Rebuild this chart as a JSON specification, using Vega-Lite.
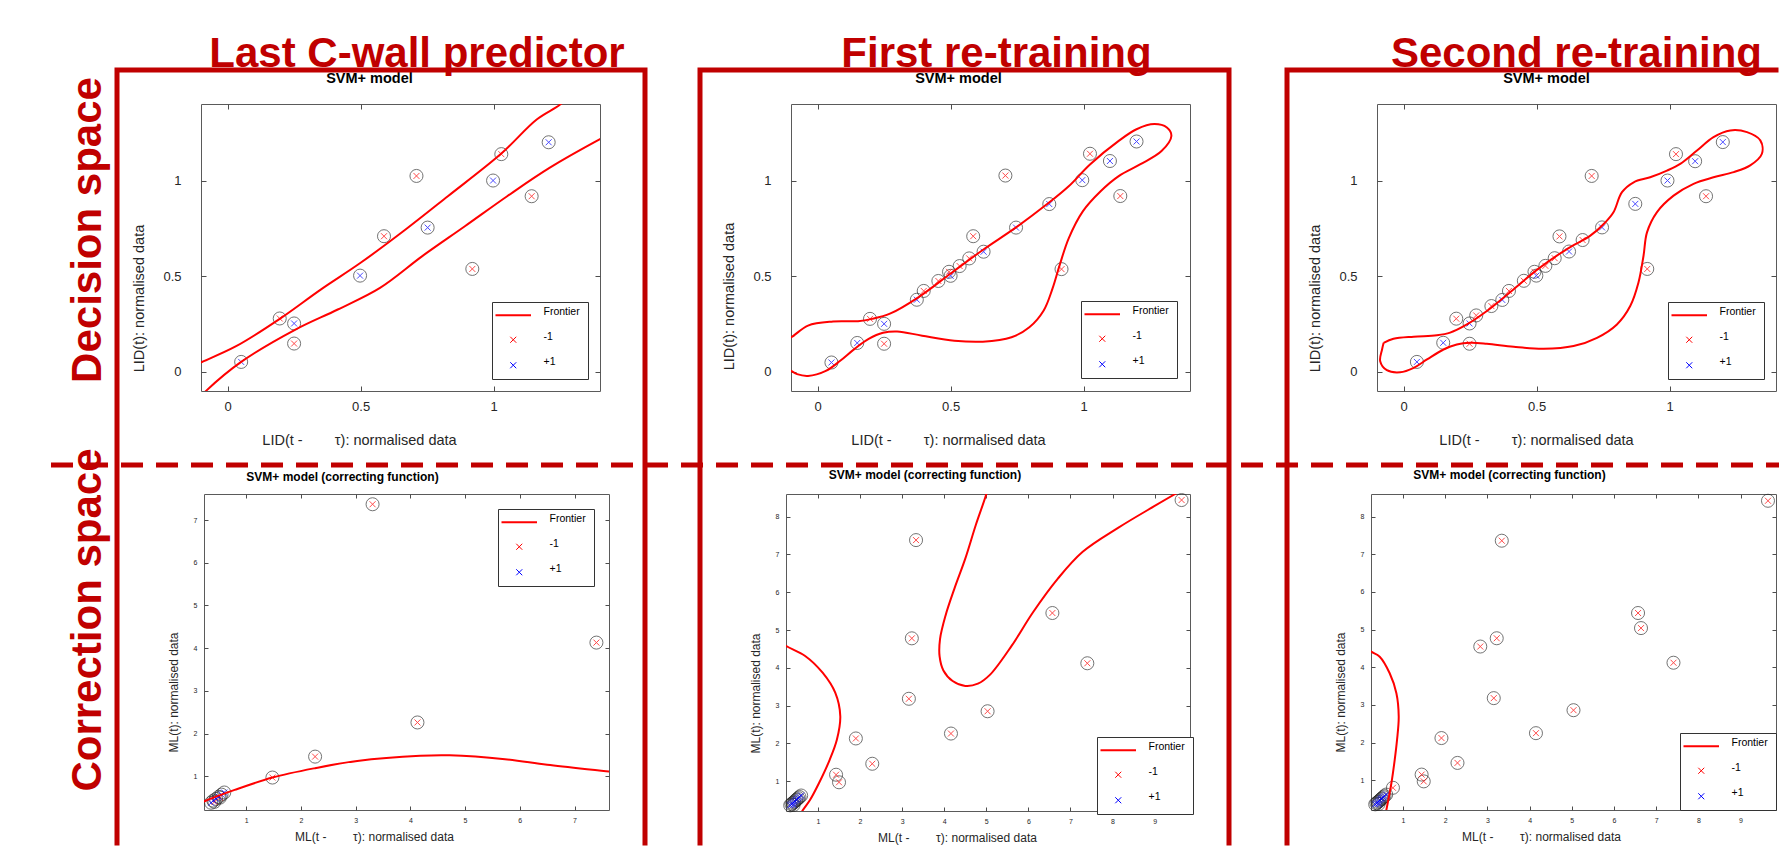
{
 "$schema": "https://vega.github.io/schema/vega-lite/v6.json",
 "padding": 0,
 "autosize": {"type": "pad"},
 "background": "white",
 "spacing": 0,
 "bounds": "flush",
 "resolve": {"scale": {"color": "independent", "shape": "independent"}},
 "config": {
  "view": {"stroke": null},
  "font": "Liberation Sans",
  "axis": {"grid": false, "domain": false, "tickColor": "#4d4d4d", "tickWidth": 1, "labelColor": "#262626", "titleColor": "#262626", "titleFontWeight": "normal", "labelFont": "Liberation Sans", "titleFont": "Liberation Sans"},
  "legend": {"padding": 8, "rowPadding": 11.5, "symbolOffset": 8, "labelOffset": 25, "labelFontSize": 10.5, "labelFont": "Liberation Sans", "labelColor": "#000000", "labelBaseline": "alphabetic", "strokeColor": "#333333", "fillColor": "#ffffff", "symbolSize": 100, "symbolStrokeWidth": 1},
  "title": {"font": "Liberation Sans"}
 },
 "datasets": {
  "tl_pts": [
   {"x":0.051,"y":0.052,"cls":"+1"},{"x":0.25,"y":0.253,"cls":"+1"},{"x":0.498,"y":0.503,"cls":"+1"},{"x":0.752,"y":0.754,"cls":"+1"},{"x":0.998,"y":1.0,"cls":"+1"},{"x":1.207,"y":1.2,"cls":"+1"},
   {"x":0.196,"y":0.279,"cls":"-1"},{"x":0.25,"y":0.148,"cls":"-1"},{"x":0.588,"y":0.709,"cls":"-1"},{"x":0.71,"y":1.024,"cls":"-1"},{"x":0.92,"y":0.538,"cls":"-1"},{"x":1.029,"y":1.138,"cls":"-1"},{"x":1.143,"y":0.918,"cls":"-1"}
  ],
  "tl_fr": [
   {"x":-0.13,"y":0.03,"i":1,"seg":"a","cls":"Frontier"},{"x":-0.104,"y":0.047,"i":2,"seg":"a","cls":"Frontier"},{"x":0.032,"y":0.134,"i":3,"seg":"a","cls":"Frontier"},{"x":0.196,"y":0.277,"i":4,"seg":"a","cls":"Frontier"},{"x":0.35,"y":0.43,"i":5,"seg":"a","cls":"Frontier"},{"x":0.5,"y":0.57,"i":6,"seg":"a","cls":"Frontier"},{"x":0.669,"y":0.744,"i":7,"seg":"a","cls":"Frontier"},{"x":0.828,"y":0.918,"i":8,"seg":"a","cls":"Frontier"},{"x":1.029,"y":1.141,"i":9,"seg":"a","cls":"Frontier"},{"x":1.162,"y":1.319,"i":10,"seg":"a","cls":"Frontier"},{"x":1.25,"y":1.397,"i":11,"seg":"a","cls":"Frontier"},{"x":1.28,"y":1.44,"i":12,"seg":"a","cls":"Frontier"},
   {"x":-0.095,"y":-0.12,"i":1,"seg":"b","cls":"Frontier"},{"x":-0.08,"y":-0.098,"i":2,"seg":"b","cls":"Frontier"},{"x":0.051,"y":0.052,"i":3,"seg":"b","cls":"Frontier"},{"x":0.255,"y":0.221,"i":4,"seg":"b","cls":"Frontier"},{"x":0.414,"y":0.326,"i":5,"seg":"b","cls":"Frontier"},{"x":0.573,"y":0.439,"i":6,"seg":"b","cls":"Frontier"},{"x":0.732,"y":0.605,"i":7,"seg":"b","cls":"Frontier"},{"x":0.892,"y":0.761,"i":8,"seg":"b","cls":"Frontier"},{"x":1.051,"y":0.918,"i":9,"seg":"b","cls":"Frontier"},{"x":1.21,"y":1.066,"i":10,"seg":"b","cls":"Frontier"},{"x":1.409,"y":1.223,"i":11,"seg":"b","cls":"Frontier"},{"x":1.44,"y":1.245,"i":12,"seg":"b","cls":"Frontier"}
  ],
  "tm_pts": [
   {"x":0.052,"y":0.049,"cls":"+1"},{"x":0.149,"y":0.151,"cls":"+1"},{"x":0.25,"y":0.251,"cls":"+1"},{"x":0.373,"y":0.377,"cls":"+1"},{"x":0.5,"y":0.502,"cls":"+1"},{"x":0.624,"y":0.628,"cls":"+1"},{"x":0.746,"y":0.754,"cls":"+1"},{"x":0.871,"y":0.877,"cls":"+1"},{"x":0.995,"y":1.002,"cls":"+1"},{"x":1.099,"y":1.102,"cls":"+1"},{"x":1.199,"y":1.204,"cls":"+1"},
   {"x":0.197,"y":0.277,"cls":"-1"},{"x":0.25,"y":0.147,"cls":"-1"},{"x":0.399,"y":0.423,"cls":"-1"},{"x":0.454,"y":0.475,"cls":"-1"},{"x":0.494,"y":0.523,"cls":"-1"},{"x":0.534,"y":0.553,"cls":"-1"},{"x":0.57,"y":0.593,"cls":"-1"},{"x":0.585,"y":0.709,"cls":"-1"},{"x":0.706,"y":1.026,"cls":"-1"},{"x":0.917,"y":0.537,"cls":"-1"},{"x":1.024,"y":1.14,"cls":"-1"},{"x":1.138,"y":0.919,"cls":"-1"}
  ],
  "tm_fr": [
   {"x":-0.12,"y":0.17,"i":1,"seg":"a","cls":"Frontier"},{"x":-0.099,"y":0.181,"i":2,"seg":"a","cls":"Frontier"},{"x":-0.036,"y":0.242,"i":3,"seg":"a","cls":"Frontier"},{"x":0.058,"y":0.263,"i":4,"seg":"a","cls":"Frontier"},{"x":0.152,"y":0.265,"i":5,"seg":"a","cls":"Frontier"},{"x":0.205,"y":0.277,"i":6,"seg":"a","cls":"Frontier"},{"x":0.272,"y":0.304,"i":7,"seg":"a","cls":"Frontier"},{"x":0.38,"y":0.391,"i":8,"seg":"a","cls":"Frontier"},{"x":0.5,"y":0.514,"i":9,"seg":"a","cls":"Frontier"},{"x":0.621,"y":0.637,"i":10,"seg":"a","cls":"Frontier"},{"x":0.742,"y":0.751,"i":11,"seg":"a","cls":"Frontier"},{"x":0.863,"y":0.877,"i":12,"seg":"a","cls":"Frontier"},{"x":0.944,"y":0.97,"i":13,"seg":"a","cls":"Frontier"},{"x":1.024,"y":1.084,"i":14,"seg":"a","cls":"Frontier"},{"x":1.132,"y":1.207,"i":15,"seg":"a","cls":"Frontier"},{"x":1.199,"y":1.268,"i":16,"seg":"a","cls":"Frontier"},{"x":1.266,"y":1.295,"i":17,"seg":"a","cls":"Frontier"},{"x":1.313,"y":1.277,"i":18,"seg":"a","cls":"Frontier"},{"x":1.33,"y":1.233,"i":19,"seg":"a","cls":"Frontier"},{"x":1.293,"y":1.154,"i":20,"seg":"a","cls":"Frontier"},{"x":1.212,"y":1.084,"i":21,"seg":"a","cls":"Frontier"},{"x":1.132,"y":1.023,"i":22,"seg":"a","cls":"Frontier"},{"x":1.064,"y":0.944,"i":23,"seg":"a","cls":"Frontier"},{"x":0.997,"y":0.839,"i":24,"seg":"a","cls":"Frontier"},{"x":0.944,"y":0.698,"i":25,"seg":"a","cls":"Frontier"},{"x":0.91,"y":0.558,"i":26,"seg":"a","cls":"Frontier"},{"x":0.883,"y":0.435,"i":27,"seg":"a","cls":"Frontier"},{"x":0.85,"y":0.321,"i":28,"seg":"a","cls":"Frontier"},{"x":0.796,"y":0.233,"i":29,"seg":"a","cls":"Frontier"},{"x":0.729,"y":0.181,"i":30,"seg":"a","cls":"Frontier"},{"x":0.621,"y":0.158,"i":31,"seg":"a","cls":"Frontier"},{"x":0.514,"y":0.163,"i":32,"seg":"a","cls":"Frontier"},{"x":0.393,"y":0.189,"i":33,"seg":"a","cls":"Frontier"},{"x":0.299,"y":0.211,"i":34,"seg":"a","cls":"Frontier"},{"x":0.246,"y":0.204,"i":35,"seg":"a","cls":"Frontier"},{"x":0.192,"y":0.172,"i":36,"seg":"a","cls":"Frontier"},{"x":0.138,"y":0.119,"i":37,"seg":"a","cls":"Frontier"},{"x":0.085,"y":0.058,"i":38,"seg":"a","cls":"Frontier"},{"x":0.031,"y":0.005,"i":39,"seg":"a","cls":"Frontier"},{"x":-0.036,"y":-0.021,"i":40,"seg":"a","cls":"Frontier"},{"x":-0.077,"y":-0.012,"i":41,"seg":"a","cls":"Frontier"},{"x":-0.099,"y":0.005,"i":42,"seg":"a","cls":"Frontier"},{"x":-0.12,"y":0.02,"i":43,"seg":"a","cls":"Frontier"}
  ],
  "tr_pts": [
   {"x":0.05,"y":0.052,"cls":"+1"},{"x":0.149,"y":0.152,"cls":"+1"},{"x":0.248,"y":0.253,"cls":"+1"},{"x":0.371,"y":0.376,"cls":"+1"},{"x":0.499,"y":0.503,"cls":"+1"},{"x":0.622,"y":0.629,"cls":"+1"},{"x":0.746,"y":0.755,"cls":"+1"},{"x":0.871,"y":0.878,"cls":"+1"},{"x":0.992,"y":1.0,"cls":"+1"},{"x":1.096,"y":1.101,"cls":"+1"},{"x":1.2,"y":1.201,"cls":"+1"},
   {"x":0.198,"y":0.278,"cls":"-1"},{"x":0.248,"y":0.147,"cls":"-1"},{"x":0.273,"y":0.295,"cls":"-1"},{"x":0.33,"y":0.344,"cls":"-1"},{"x":0.396,"y":0.423,"cls":"-1"},{"x":0.452,"y":0.476,"cls":"-1"},{"x":0.492,"y":0.523,"cls":"-1"},{"x":0.533,"y":0.554,"cls":"-1"},{"x":0.568,"y":0.594,"cls":"-1"},{"x":0.586,"y":0.708,"cls":"-1"},{"x":0.673,"y":0.689,"cls":"-1"},{"x":0.707,"y":1.024,"cls":"-1"},{"x":0.916,"y":0.538,"cls":"-1"},{"x":1.024,"y":1.138,"cls":"-1"},{"x":1.137,"y":0.918,"cls":"-1"}
  ],
  "tr_fr": [
   {"x":-0.075,"y":0.152,"i":1,"seg":"a","cls":"Frontier"},{"x":-0.038,"y":0.173,"i":2,"seg":"a","cls":"Frontier"},{"x":0.038,"y":0.184,"i":3,"seg":"a","cls":"Frontier"},{"x":0.125,"y":0.191,"i":4,"seg":"a","cls":"Frontier"},{"x":0.175,"y":0.205,"i":5,"seg":"a","cls":"Frontier"},{"x":0.238,"y":0.248,"i":6,"seg":"a","cls":"Frontier"},{"x":0.313,"y":0.318,"i":7,"seg":"a","cls":"Frontier"},{"x":0.414,"y":0.432,"i":8,"seg":"a","cls":"Frontier"},{"x":0.501,"y":0.533,"i":9,"seg":"a","cls":"Frontier"},{"x":0.614,"y":0.642,"i":10,"seg":"a","cls":"Frontier"},{"x":0.702,"y":0.712,"i":11,"seg":"a","cls":"Frontier"},{"x":0.758,"y":0.781,"i":12,"seg":"a","cls":"Frontier"},{"x":0.789,"y":0.834,"i":13,"seg":"a","cls":"Frontier"},{"x":0.821,"y":0.939,"i":14,"seg":"a","cls":"Frontier"},{"x":0.865,"y":0.991,"i":15,"seg":"a","cls":"Frontier"},{"x":0.927,"y":1.017,"i":16,"seg":"a","cls":"Frontier"},{"x":0.99,"y":1.052,"i":17,"seg":"a","cls":"Frontier"},{"x":1.04,"y":1.087,"i":18,"seg":"a","cls":"Frontier"},{"x":1.103,"y":1.157,"i":19,"seg":"a","cls":"Frontier"},{"x":1.165,"y":1.227,"i":20,"seg":"a","cls":"Frontier"},{"x":1.228,"y":1.262,"i":21,"seg":"a","cls":"Frontier"},{"x":1.291,"y":1.253,"i":22,"seg":"a","cls":"Frontier"},{"x":1.341,"y":1.21,"i":23,"seg":"a","cls":"Frontier"},{"x":1.347,"y":1.14,"i":24,"seg":"a","cls":"Frontier"},{"x":1.303,"y":1.079,"i":25,"seg":"a","cls":"Frontier"},{"x":1.241,"y":1.044,"i":26,"seg":"a","cls":"Frontier"},{"x":1.165,"y":1.017,"i":27,"seg":"a","cls":"Frontier"},{"x":1.09,"y":0.983,"i":28,"seg":"a","cls":"Frontier"},{"x":1.015,"y":0.921,"i":29,"seg":"a","cls":"Frontier"},{"x":0.952,"y":0.834,"i":30,"seg":"a","cls":"Frontier"},{"x":0.915,"y":0.729,"i":31,"seg":"a","cls":"Frontier"},{"x":0.902,"y":0.607,"i":32,"seg":"a","cls":"Frontier"},{"x":0.883,"y":0.467,"i":33,"seg":"a","cls":"Frontier"},{"x":0.852,"y":0.344,"i":34,"seg":"a","cls":"Frontier"},{"x":0.802,"y":0.248,"i":35,"seg":"a","cls":"Frontier"},{"x":0.727,"y":0.178,"i":36,"seg":"a","cls":"Frontier"},{"x":0.639,"y":0.135,"i":37,"seg":"a","cls":"Frontier"},{"x":0.526,"y":0.121,"i":38,"seg":"a","cls":"Frontier"},{"x":0.414,"y":0.131,"i":39,"seg":"a","cls":"Frontier"},{"x":0.313,"y":0.147,"i":40,"seg":"a","cls":"Frontier"},{"x":0.251,"y":0.152,"i":41,"seg":"a","cls":"Frontier"},{"x":0.2,"y":0.143,"i":42,"seg":"a","cls":"Frontier"},{"x":0.15,"y":0.117,"i":43,"seg":"a","cls":"Frontier"},{"x":0.088,"y":0.065,"i":44,"seg":"a","cls":"Frontier"},{"x":0.038,"y":0.021,"i":45,"seg":"a","cls":"Frontier"},{"x":-0.013,"y":-0.002,"i":46,"seg":"a","cls":"Frontier"},{"x":-0.063,"y":0.009,"i":47,"seg":"a","cls":"Frontier"},{"x":-0.088,"y":0.056,"i":48,"seg":"a","cls":"Frontier"},{"x":-0.081,"y":0.117,"i":49,"seg":"a","cls":"Frontier"},{"x":-0.075,"y":0.152,"i":50,"seg":"a","cls":"Frontier"}
  ],
  "bl_pts": [
   {"x":3.31,"y":7.37,"cls":"-1"},{"x":7.4,"y":4.13,"cls":"-1"},{"x":4.13,"y":2.26,"cls":"-1"},{"x":2.26,"y":1.46,"cls":"-1"},{"x":1.48,"y":0.97,"cls":"-1"},{"x":0.42,"y":0.4,"cls":"-1"},{"x":0.52,"y":0.5,"cls":"-1"},
   {"x":0.36,"y":0.38,"cls":"+1"},{"x":0.4,"y":0.43,"cls":"+1"},{"x":0.45,"y":0.47,"cls":"+1"},{"x":0.5,"y":0.52,"cls":"+1"},{"x":0.55,"y":0.57,"cls":"+1"},{"x":0.6,"y":0.62,"cls":"+1"}
  ],
  "bl_fr": [
   {"x":0.15,"y":0.36,"i":1,"seg":"a","cls":"Frontier"},{"x":0.23,"y":0.41,"i":2,"seg":"a","cls":"Frontier"},{"x":0.79,"y":0.68,"i":3,"seg":"a","cls":"Frontier"},{"x":1.48,"y":0.97,"i":4,"seg":"a","cls":"Frontier"},{"x":2.26,"y":1.19,"i":5,"seg":"a","cls":"Frontier"},{"x":3.03,"y":1.36,"i":6,"seg":"a","cls":"Frontier"},{"x":4.18,"y":1.48,"i":7,"seg":"a","cls":"Frontier"},{"x":4.72,"y":1.49,"i":8,"seg":"a","cls":"Frontier"},{"x":5.73,"y":1.4,"i":9,"seg":"a","cls":"Frontier"},{"x":6.5,"y":1.27,"i":10,"seg":"a","cls":"Frontier"},{"x":7.63,"y":1.11,"i":11,"seg":"a","cls":"Frontier"},{"x":7.75,"y":1.09,"i":12,"seg":"a","cls":"Frontier"}
  ],
  "bm_pts": [
   {"x":3.33,"y":7.38,"cls":"-1"},{"x":9.64,"y":8.44,"cls":"-1"},{"x":6.57,"y":5.45,"cls":"-1"},{"x":3.23,"y":4.78,"cls":"-1"},{"x":7.4,"y":4.12,"cls":"-1"},{"x":3.16,"y":3.18,"cls":"-1"},{"x":5.03,"y":2.85,"cls":"-1"},{"x":4.16,"y":2.26,"cls":"-1"},{"x":1.9,"y":2.13,"cls":"-1"},{"x":2.29,"y":1.46,"cls":"-1"},{"x":1.43,"y":1.17,"cls":"-1"},{"x":1.5,"y":0.97,"cls":"-1"},
   {"x":0.34,"y":0.36,"cls":"+1"},{"x":0.37,"y":0.39,"cls":"+1"},{"x":0.4,"y":0.42,"cls":"+1"},{"x":0.43,"y":0.44,"cls":"+1"},{"x":0.45,"y":0.47,"cls":"+1"},{"x":0.48,"y":0.5,"cls":"+1"},{"x":0.5,"y":0.52,"cls":"+1"},{"x":0.53,"y":0.55,"cls":"+1"},{"x":0.56,"y":0.58,"cls":"+1"},{"x":0.6,"y":0.62,"cls":"+1"},{"x":0.42,"y":0.37,"cls":"+1"}
  ],
  "bm_fr": [
   {"x":0.05,"y":4.75,"i":1,"seg":"a","cls":"Frontier"},{"x":0.238,"y":4.58,"i":2,"seg":"a","cls":"Frontier"},{"x":0.687,"y":4.32,"i":3,"seg":"a","cls":"Frontier"},{"x":1.11,"y":3.87,"i":4,"seg":"a","cls":"Frontier"},{"x":1.41,"y":3.34,"i":5,"seg":"a","cls":"Frontier"},{"x":1.53,"y":2.72,"i":6,"seg":"a","cls":"Frontier"},{"x":1.45,"y":2.1,"i":7,"seg":"a","cls":"Frontier"},{"x":1.28,"y":1.57,"i":8,"seg":"a","cls":"Frontier"},{"x":1.025,"y":0.95,"i":9,"seg":"a","cls":"Frontier"},{"x":0.81,"y":0.5,"i":10,"seg":"a","cls":"Frontier"},{"x":0.627,"y":0.21,"i":11,"seg":"a","cls":"Frontier"},{"x":0.56,"y":0.08,"i":12,"seg":"a","cls":"Frontier"},
   {"x":5.05,"y":8.85,"i":1,"seg":"b","cls":"Frontier"},{"x":5.0,"y":8.6,"i":2,"seg":"b","cls":"Frontier"},{"x":4.75,"y":7.78,"i":3,"seg":"b","cls":"Frontier"},{"x":4.5,"y":6.89,"i":4,"seg":"b","cls":"Frontier"},{"x":4.24,"y":6.09,"i":5,"seg":"b","cls":"Frontier"},{"x":4.03,"y":5.38,"i":6,"seg":"b","cls":"Frontier"},{"x":3.9,"y":4.76,"i":7,"seg":"b","cls":"Frontier"},{"x":3.89,"y":4.3,"i":8,"seg":"b","cls":"Frontier"},{"x":3.98,"y":3.93,"i":9,"seg":"b","cls":"Frontier"},{"x":4.2,"y":3.65,"i":10,"seg":"b","cls":"Frontier"},{"x":4.5,"y":3.52,"i":11,"seg":"b","cls":"Frontier"},{"x":4.8,"y":3.58,"i":12,"seg":"b","cls":"Frontier"},{"x":5.09,"y":3.82,"i":13,"seg":"b","cls":"Frontier"},{"x":5.6,"y":4.58,"i":14,"seg":"b","cls":"Frontier"},{"x":6.11,"y":5.47,"i":15,"seg":"b","cls":"Frontier"},{"x":6.7,"y":6.36,"i":16,"seg":"b","cls":"Frontier"},{"x":7.29,"y":7.07,"i":17,"seg":"b","cls":"Frontier"},{"x":8.14,"y":7.71,"i":18,"seg":"b","cls":"Frontier"},{"x":8.98,"y":8.27,"i":19,"seg":"b","cls":"Frontier"},{"x":9.49,"y":8.6,"i":20,"seg":"b","cls":"Frontier"},{"x":9.75,"y":8.76,"i":21,"seg":"b","cls":"Frontier"}
  ],
  "br_pts": [
   {"x":9.65,"y":8.42,"cls":"-1"},{"x":3.34,"y":7.36,"cls":"-1"},{"x":6.57,"y":5.44,"cls":"-1"},{"x":6.64,"y":5.04,"cls":"-1"},{"x":2.83,"y":4.55,"cls":"-1"},{"x":3.22,"y":4.77,"cls":"-1"},{"x":7.41,"y":4.12,"cls":"-1"},{"x":3.15,"y":3.18,"cls":"-1"},{"x":5.04,"y":2.86,"cls":"-1"},{"x":4.15,"y":2.25,"cls":"-1"},{"x":1.91,"y":2.12,"cls":"-1"},{"x":2.29,"y":1.46,"cls":"-1"},{"x":1.44,"y":1.15,"cls":"-1"},{"x":1.49,"y":0.97,"cls":"-1"},{"x":0.76,"y":0.8,"cls":"-1"},
   {"x":0.34,"y":0.36,"cls":"+1"},{"x":0.37,"y":0.39,"cls":"+1"},{"x":0.4,"y":0.42,"cls":"+1"},{"x":0.43,"y":0.44,"cls":"+1"},{"x":0.45,"y":0.47,"cls":"+1"},{"x":0.48,"y":0.5,"cls":"+1"},{"x":0.5,"y":0.52,"cls":"+1"},{"x":0.53,"y":0.55,"cls":"+1"},{"x":0.56,"y":0.58,"cls":"+1"},{"x":0.6,"y":0.62,"cls":"+1"},{"x":0.42,"y":0.37,"cls":"+1"}
  ],
  "br_fr": [
   {"x":0.05,"y":4.6,"i":1,"seg":"a","cls":"Frontier"},{"x":0.232,"y":4.42,"i":2,"seg":"a","cls":"Frontier"},{"x":0.446,"y":4.28,"i":3,"seg":"a","cls":"Frontier"},{"x":0.683,"y":3.84,"i":4,"seg":"a","cls":"Frontier"},{"x":0.842,"y":3.31,"i":5,"seg":"a","cls":"Frontier"},{"x":0.897,"y":2.69,"i":6,"seg":"a","cls":"Frontier"},{"x":0.857,"y":2.07,"i":7,"seg":"a","cls":"Frontier"},{"x":0.802,"y":1.54,"i":8,"seg":"a","cls":"Frontier"},{"x":0.723,"y":0.92,"i":9,"seg":"a","cls":"Frontier"},{"x":0.604,"y":0.21,"i":10,"seg":"a","cls":"Frontier"},{"x":0.58,"y":0.08,"i":11,"seg":"a","cls":"Frontier"}
  ]
 },
 "hconcat": [
  {"vconcat": [
   {"width": 1779, "height": 846, "data": {"values": []}, "mark": "point", "view": {"fill": "#ffffff", "stroke": null}}
  ], "spacing": 0, "bounds": "flush"},
  {"vconcat": [
   {"width": 1, "height": 104, "data": {"values": []}, "mark": "point"},
   {"hconcat": [
    {"width": 201, "height": 1, "data": {"values": []}, "mark": "point"},
    {"width": 399, "height": 287,
     "view": {"stroke": "#5a5a5a", "strokeWidth": 1},
     "title": {"text": "SVM+ model", "fontSize": 14.5, "fontWeight": "bold", "color": "#000000", "anchor": "middle", "dx": -31, "dy": 15, "offset": 21, "baseline": "alphabetic"},
     "resolve": {"axis": {"x": "independent", "y": "independent"}},
     "layer": [
      {"data": {"name": "tl_pts"}, "mark": {"type": "point", "shape": "circle", "filled": false, "size": 170, "color": "#222222", "strokeWidth": 0.9},
       "encoding": {
        "x": {"field": "x", "type": "quantitative", "scale": {"domain": [-0.1, 1.4], "nice": false, "zero": false}, "axis": {"values": [0, 0.5, 1], "format": "~g", "tickSize": -5, "labelPadding": 14, "labelFontSize": 13, "title": "LID(t -\u00a0\u00a0\u00a0\u00a0\u00a0\u00a0\u00a0\u00a0τ): normalised data", "titleFontSize": 14.5, "titlePadding": 20, "titleX": 158}},
        "y": {"field": "y", "type": "quantitative", "scale": {"domain": [-0.1, 1.4], "nice": false, "zero": false}, "axis": {"values": [0, 0.5, 1], "format": "~g", "tickSize": -5, "labelPadding": 25, "labelFontSize": 13, "title": "LID(t): normalised data", "titleFontSize": 14.5, "titlePadding": 16, "titleY": 194}}
       }},
      {"data": {"name": "tl_pts"}, "mark": {"type": "point", "filled": false, "size": 100, "strokeWidth": 1},
       "encoding": {
        "x": {"field": "x", "type": "quantitative", "scale": {"domain": [-0.1, 1.4], "nice": false, "zero": false}, "axis": {"orient": "top", "values": [0, 0.5, 1], "labels": false, "title": null, "tickSize": -5}},
        "y": {"field": "y", "type": "quantitative", "scale": {"domain": [-0.1, 1.4], "nice": false, "zero": false}, "axis": {"orient": "right", "values": [0, 0.5, 1], "labels": false, "title": null, "tickSize": -5}},
        "color": {"field": "cls", "type": "nominal", "scale": {"domain": ["Frontier", "-1", "+1"], "range": ["#ff0000", "#ff0000", "#0000ff"]}, "legend": {"title": null, "orient": "bottom-right", "offset": 12, "encode": {"symbols": {"update": {"strokeWidth": {"signal": "datum.value === 'Frontier' ? 2 : 1"}}}, "labels": {"update": {"text": {"signal": "datum.label + '\u00a0\u00a0\u00a0\u00a0\u00a0\u00a0\u00a0\u00a0\u00a0\u00a0\u00a0'"}}}}}},
        "shape": {"field": "cls", "type": "nominal", "scale": {"domain": ["Frontier", "-1", "+1"], "range": ["M-3.55,0L3.55,0", "M-0.6,-0.6L0.6,0.6M-0.6,0.6L0.6,-0.6", "M-0.6,-0.6L0.6,0.6M-0.6,0.6L0.6,-0.6"]}, "legend": {"title": null, "orient": "bottom-right", "offset": 12, "encode": {"symbols": {"update": {"strokeWidth": {"signal": "datum.value === 'Frontier' ? 2 : 1"}}}, "labels": {"update": {"text": {"signal": "datum.label + '\u00a0\u00a0\u00a0\u00a0\u00a0\u00a0\u00a0\u00a0\u00a0\u00a0\u00a0'"}}}}}}
       }},
      {"data": {"name": "tl_fr"}, "mark": {"type": "line", "interpolate": "catmull-rom", "clip": true, "strokeWidth": 2},
       "encoding": {
        "x": {"field": "x", "type": "quantitative", "scale": {"domain": [-0.1, 1.4], "nice": false, "zero": false}, "axis": null},
        "y": {"field": "y", "type": "quantitative", "scale": {"domain": [-0.1, 1.4], "nice": false, "zero": false}, "axis": null},
        "order": {"field": "i", "type": "quantitative"},
        "detail": {"field": "seg", "type": "nominal"},
        "color": {"field": "cls", "type": "nominal", "scale": {"domain": ["Frontier", "-1", "+1"], "range": ["#ff0000", "#ff0000", "#0000ff"]}, "legend": {"title": null, "orient": "bottom-right", "offset": 12, "encode": {"symbols": {"update": {"strokeWidth": {"signal": "datum.value === 'Frontier' ? 2 : 1"}}}, "labels": {"update": {"text": {"signal": "datum.label + '\u00a0\u00a0\u00a0\u00a0\u00a0\u00a0\u00a0\u00a0\u00a0\u00a0\u00a0'"}}}}}}
       }}
     ]},
    {"width": 191, "height": 1, "data": {"values": []}, "mark": "point"},
    {"width": 399, "height": 287,
     "view": {"stroke": "#5a5a5a", "strokeWidth": 1},
     "title": {"text": "SVM+ model", "fontSize": 14.5, "fontWeight": "bold", "color": "#000000", "anchor": "middle", "dx": -32, "dy": 15, "offset": 21, "baseline": "alphabetic"},
     "resolve": {"axis": {"x": "independent", "y": "independent"}},
     "layer": [
      {"data": {"name": "tm_pts"}, "mark": {"type": "point", "shape": "circle", "filled": false, "size": 170, "color": "#222222", "strokeWidth": 0.9},
       "encoding": {
        "x": {"field": "x", "type": "quantitative", "scale": {"domain": [-0.1, 1.4], "nice": false, "zero": false}, "axis": {"values": [0, 0.5, 1], "format": "~g", "tickSize": -5, "labelPadding": 14, "labelFontSize": 13, "title": "LID(t -\u00a0\u00a0\u00a0\u00a0\u00a0\u00a0\u00a0\u00a0τ): normalised data", "titleFontSize": 14.5, "titlePadding": 20, "titleX": 157}},
        "y": {"field": "y", "type": "quantitative", "scale": {"domain": [-0.1, 1.4], "nice": false, "zero": false}, "axis": {"values": [0, 0.5, 1], "format": "~g", "tickSize": -5, "labelPadding": 25, "labelFontSize": 13, "title": "LID(t): normalised data", "titleFontSize": 14.5, "titlePadding": 16, "titleY": 192}}
       }},
      {"data": {"name": "tm_pts"}, "mark": {"type": "point", "filled": false, "size": 100, "strokeWidth": 1},
       "encoding": {
        "x": {"field": "x", "type": "quantitative", "scale": {"domain": [-0.1, 1.4], "nice": false, "zero": false}, "axis": {"orient": "top", "values": [0, 0.5, 1], "labels": false, "title": null, "tickSize": -5}},
        "y": {"field": "y", "type": "quantitative", "scale": {"domain": [-0.1, 1.4], "nice": false, "zero": false}, "axis": {"orient": "right", "values": [0, 0.5, 1], "labels": false, "title": null, "tickSize": -5}},
        "color": {"field": "cls", "type": "nominal", "scale": {"domain": ["Frontier", "-1", "+1"], "range": ["#ff0000", "#ff0000", "#0000ff"]}, "legend": {"title": null, "orient": "bottom-right", "offset": 13, "encode": {"symbols": {"update": {"strokeWidth": {"signal": "datum.value === 'Frontier' ? 2 : 1"}}}, "labels": {"update": {"text": {"signal": "datum.label + '\u00a0\u00a0\u00a0\u00a0\u00a0\u00a0\u00a0\u00a0\u00a0\u00a0\u00a0'"}}}}}},
        "shape": {"field": "cls", "type": "nominal", "scale": {"domain": ["Frontier", "-1", "+1"], "range": ["M-3.55,0L3.55,0", "M-0.6,-0.6L0.6,0.6M-0.6,0.6L0.6,-0.6", "M-0.6,-0.6L0.6,0.6M-0.6,0.6L0.6,-0.6"]}, "legend": {"title": null, "orient": "bottom-right", "offset": 13, "encode": {"symbols": {"update": {"strokeWidth": {"signal": "datum.value === 'Frontier' ? 2 : 1"}}}, "labels": {"update": {"text": {"signal": "datum.label + '\u00a0\u00a0\u00a0\u00a0\u00a0\u00a0\u00a0\u00a0\u00a0\u00a0\u00a0'"}}}}}}
       }},
      {"data": {"name": "tm_fr"}, "mark": {"type": "line", "interpolate": "catmull-rom", "clip": true, "strokeWidth": 2},
       "encoding": {
        "x": {"field": "x", "type": "quantitative", "scale": {"domain": [-0.1, 1.4], "nice": false, "zero": false}, "axis": null},
        "y": {"field": "y", "type": "quantitative", "scale": {"domain": [-0.1, 1.4], "nice": false, "zero": false}, "axis": null},
        "order": {"field": "i", "type": "quantitative"},
        "detail": {"field": "seg", "type": "nominal"},
        "color": {"field": "cls", "type": "nominal", "scale": {"domain": ["Frontier", "-1", "+1"], "range": ["#ff0000", "#ff0000", "#0000ff"]}, "legend": {"title": null, "orient": "bottom-right", "offset": 13, "encode": {"symbols": {"update": {"strokeWidth": {"signal": "datum.value === 'Frontier' ? 2 : 1"}}}, "labels": {"update": {"text": {"signal": "datum.label + '\u00a0\u00a0\u00a0\u00a0\u00a0\u00a0\u00a0\u00a0\u00a0\u00a0\u00a0'"}}}}}}
       }}
     ]},
    {"width": 187, "height": 1, "data": {"values": []}, "mark": "point"},
    {"width": 399, "height": 287,
     "view": {"stroke": "#5a5a5a", "strokeWidth": 1},
     "title": {"text": "SVM+ model", "fontSize": 14.5, "fontWeight": "bold", "color": "#000000", "anchor": "middle", "dx": -30, "dy": 15, "offset": 21, "baseline": "alphabetic"},
     "resolve": {"axis": {"x": "independent", "y": "independent"}},
     "layer": [
      {"data": {"name": "tr_pts"}, "mark": {"type": "point", "shape": "circle", "filled": false, "size": 170, "color": "#222222", "strokeWidth": 0.9},
       "encoding": {
        "x": {"field": "x", "type": "quantitative", "scale": {"domain": [-0.1, 1.4], "nice": false, "zero": false}, "axis": {"values": [0, 0.5, 1], "format": "~g", "tickSize": -5, "labelPadding": 14, "labelFontSize": 13, "title": "LID(t -\u00a0\u00a0\u00a0\u00a0\u00a0\u00a0\u00a0\u00a0τ): normalised data", "titleFontSize": 14.5, "titlePadding": 20, "titleX": 159}},
        "y": {"field": "y", "type": "quantitative", "scale": {"domain": [-0.1, 1.4], "nice": false, "zero": false}, "axis": {"values": [0, 0.5, 1], "format": "~g", "tickSize": -5, "labelPadding": 25, "labelFontSize": 13, "title": "LID(t): normalised data", "titleFontSize": 14.5, "titlePadding": 16, "titleY": 194}}
       }},
      {"data": {"name": "tr_pts"}, "mark": {"type": "point", "filled": false, "size": 100, "strokeWidth": 1},
       "encoding": {
        "x": {"field": "x", "type": "quantitative", "scale": {"domain": [-0.1, 1.4], "nice": false, "zero": false}, "axis": {"orient": "top", "values": [0, 0.5, 1], "labels": false, "title": null, "tickSize": -5}},
        "y": {"field": "y", "type": "quantitative", "scale": {"domain": [-0.1, 1.4], "nice": false, "zero": false}, "axis": {"orient": "right", "values": [0, 0.5, 1], "labels": false, "title": null, "tickSize": -5}},
        "color": {"field": "cls", "type": "nominal", "scale": {"domain": ["Frontier", "-1", "+1"], "range": ["#ff0000", "#ff0000", "#0000ff"]}, "legend": {"title": null, "orient": "bottom-right", "offset": 12, "encode": {"symbols": {"update": {"strokeWidth": {"signal": "datum.value === 'Frontier' ? 2 : 1"}}}, "labels": {"update": {"text": {"signal": "datum.label + '\u00a0\u00a0\u00a0\u00a0\u00a0\u00a0\u00a0\u00a0\u00a0\u00a0\u00a0'"}}}}}},
        "shape": {"field": "cls", "type": "nominal", "scale": {"domain": ["Frontier", "-1", "+1"], "range": ["M-3.55,0L3.55,0", "M-0.6,-0.6L0.6,0.6M-0.6,0.6L0.6,-0.6", "M-0.6,-0.6L0.6,0.6M-0.6,0.6L0.6,-0.6"]}, "legend": {"title": null, "orient": "bottom-right", "offset": 12, "encode": {"symbols": {"update": {"strokeWidth": {"signal": "datum.value === 'Frontier' ? 2 : 1"}}}, "labels": {"update": {"text": {"signal": "datum.label + '\u00a0\u00a0\u00a0\u00a0\u00a0\u00a0\u00a0\u00a0\u00a0\u00a0\u00a0'"}}}}}}
       }},
      {"data": {"name": "tr_fr"}, "mark": {"type": "line", "interpolate": "catmull-rom", "clip": true, "strokeWidth": 2},
       "encoding": {
        "x": {"field": "x", "type": "quantitative", "scale": {"domain": [-0.1, 1.4], "nice": false, "zero": false}, "axis": null},
        "y": {"field": "y", "type": "quantitative", "scale": {"domain": [-0.1, 1.4], "nice": false, "zero": false}, "axis": null},
        "order": {"field": "i", "type": "quantitative"},
        "detail": {"field": "seg", "type": "nominal"},
        "color": {"field": "cls", "type": "nominal", "scale": {"domain": ["Frontier", "-1", "+1"], "range": ["#ff0000", "#ff0000", "#0000ff"]}, "legend": {"title": null, "orient": "bottom-right", "offset": 12, "encode": {"symbols": {"update": {"strokeWidth": {"signal": "datum.value === 'Frontier' ? 2 : 1"}}}, "labels": {"update": {"text": {"signal": "datum.label + '\u00a0\u00a0\u00a0\u00a0\u00a0\u00a0\u00a0\u00a0\u00a0\u00a0\u00a0'"}}}}}}
       }}
     ]}
   ], "spacing": 0, "bounds": "flush", "resolve": {"scale": {"color": "independent", "shape": "independent"}}},
   {"width": 1, "height": 390, "data": {"values": []}, "mark": "point"},
   {"hconcat": [
    {"width": 204, "height": 1, "data": {"values": []}, "mark": "point"},
    {"width": 405, "height": 316,
     "view": {"stroke": "#5a5a5a", "strokeWidth": 1},
     "title": {"text": "SVM+ model (correcting function)", "fontSize": 12, "fontWeight": "bold", "color": "#000000", "anchor": "middle", "dx": -64, "dy": 13, "offset": 14, "baseline": "alphabetic"},
     "resolve": {"axis": {"x": "independent", "y": "independent"}},
     "layer": [
      {"data": {"name": "bl_pts"}, "mark": {"type": "point", "shape": "circle", "filled": false, "size": 170, "color": "#222222", "strokeWidth": 0.9},
       "encoding": {
        "x": {"field": "x", "type": "quantitative", "scale": {"domain": [0.23, 7.63], "nice": false, "zero": false}, "axis": {"values": [1, 2, 3, 4, 5, 6, 7], "format": "d", "tickSize": -4, "labelPadding": 10, "labelFontSize": 7, "title": "ML(t -\u00a0\u00a0\u00a0\u00a0\u00a0\u00a0\u00a0\u00a0τ): normalised data", "titleFontSize": 12, "titlePadding": 8, "titleX": 170}},
        "y": {"field": "y", "type": "quantitative", "scale": {"domain": [0.21, 7.61], "nice": false, "zero": false}, "axis": {"values": [1, 2, 3, 4, 5, 6, 7], "format": "d", "tickSize": -4, "labelPadding": 11, "labelFontSize": 7, "title": "ML(t): normalised data", "titleFontSize": 12, "titlePadding": 13, "titleY": 198}}
       }},
      {"data": {"name": "bl_pts"}, "mark": {"type": "point", "filled": false, "size": 100, "strokeWidth": 1},
       "encoding": {
        "x": {"field": "x", "type": "quantitative", "scale": {"domain": [0.23, 7.63], "nice": false, "zero": false}, "axis": {"orient": "top", "values": [1, 2, 3, 4, 5, 6, 7], "labels": false, "title": null, "tickSize": -4}},
        "y": {"field": "y", "type": "quantitative", "scale": {"domain": [0.21, 7.61], "nice": false, "zero": false}, "axis": {"orient": "right", "values": [1, 2, 3, 4, 5, 6, 7], "labels": false, "title": null, "tickSize": -4}},
        "color": {"field": "cls", "type": "nominal", "scale": {"domain": ["Frontier", "-1", "+1"], "range": ["#ff0000", "#ff0000", "#0000ff"]}, "legend": {"title": null, "orient": "top-right", "offset": 15, "encode": {"symbols": {"update": {"strokeWidth": {"signal": "datum.value === 'Frontier' ? 2 : 1"}}}, "labels": {"update": {"text": {"signal": "datum.label + '\u00a0\u00a0\u00a0\u00a0\u00a0\u00a0\u00a0\u00a0\u00a0\u00a0\u00a0'"}}}}}},
        "shape": {"field": "cls", "type": "nominal", "scale": {"domain": ["Frontier", "-1", "+1"], "range": ["M-3.55,0L3.55,0", "M-0.6,-0.6L0.6,0.6M-0.6,0.6L0.6,-0.6", "M-0.6,-0.6L0.6,0.6M-0.6,0.6L0.6,-0.6"]}, "legend": {"title": null, "orient": "top-right", "offset": 15, "encode": {"symbols": {"update": {"strokeWidth": {"signal": "datum.value === 'Frontier' ? 2 : 1"}}}, "labels": {"update": {"text": {"signal": "datum.label + '\u00a0\u00a0\u00a0\u00a0\u00a0\u00a0\u00a0\u00a0\u00a0\u00a0\u00a0'"}}}}}}
       }},
      {"data": {"name": "bl_fr"}, "mark": {"type": "line", "interpolate": "catmull-rom", "clip": true, "strokeWidth": 2},
       "encoding": {
        "x": {"field": "x", "type": "quantitative", "scale": {"domain": [0.23, 7.63], "nice": false, "zero": false}, "axis": null},
        "y": {"field": "y", "type": "quantitative", "scale": {"domain": [0.21, 7.61], "nice": false, "zero": false}, "axis": null},
        "order": {"field": "i", "type": "quantitative"},
        "detail": {"field": "seg", "type": "nominal"},
        "color": {"field": "cls", "type": "nominal", "scale": {"domain": ["Frontier", "-1", "+1"], "range": ["#ff0000", "#ff0000", "#0000ff"]}, "legend": {"title": null, "orient": "top-right", "offset": 15, "encode": {"symbols": {"update": {"strokeWidth": {"signal": "datum.value === 'Frontier' ? 2 : 1"}}}, "labels": {"update": {"text": {"signal": "datum.label + '\u00a0\u00a0\u00a0\u00a0\u00a0\u00a0\u00a0\u00a0\u00a0\u00a0\u00a0'"}}}}}}
       }}
     ]},
    {"width": 177, "height": 1, "data": {"values": []}, "mark": "point"},
    {"width": 404, "height": 317,
     "view": {"stroke": "#5a5a5a", "strokeWidth": 1},
     "title": {"text": "SVM+ model (correcting function)", "fontSize": 12, "fontWeight": "bold", "color": "#000000", "anchor": "middle", "dx": -63, "dy": 13, "offset": 14, "baseline": "alphabetic"},
     "resolve": {"axis": {"x": "independent", "y": "independent"}},
     "layer": [
      {"data": {"name": "bm_pts"}, "mark": {"type": "point", "shape": "circle", "filled": false, "size": 170, "color": "#222222", "strokeWidth": 0.9},
       "encoding": {
        "x": {"field": "x", "type": "quantitative", "scale": {"domain": [0.24, 9.84], "nice": false, "zero": false}, "axis": {"values": [1, 2, 3, 4, 5, 6, 7, 8, 9], "format": "d", "tickSize": -4, "labelPadding": 10, "labelFontSize": 7, "title": "ML(t -\u00a0\u00a0\u00a0\u00a0\u00a0\u00a0\u00a0\u00a0τ): normalised data", "titleFontSize": 12, "titlePadding": 8, "titleX": 171}},
        "y": {"field": "y", "type": "quantitative", "scale": {"domain": [0.21, 8.6], "nice": false, "zero": false}, "axis": {"values": [1, 2, 3, 4, 5, 6, 7, 8], "format": "d", "tickSize": -4, "labelPadding": 11, "labelFontSize": 7, "title": "ML(t): normalised data", "titleFontSize": 12, "titlePadding": 13, "titleY": 199}}
       }},
      {"data": {"name": "bm_pts"}, "mark": {"type": "point", "filled": false, "size": 100, "strokeWidth": 1},
       "encoding": {
        "x": {"field": "x", "type": "quantitative", "scale": {"domain": [0.24, 9.84], "nice": false, "zero": false}, "axis": {"orient": "top", "values": [1, 2, 3, 4, 5, 6, 7, 8, 9], "labels": false, "title": null, "tickSize": -4}},
        "y": {"field": "y", "type": "quantitative", "scale": {"domain": [0.21, 8.6], "nice": false, "zero": false}, "axis": {"orient": "right", "values": [1, 2, 3, 4, 5, 6, 7, 8], "labels": false, "title": null, "tickSize": -4}},
        "color": {"field": "cls", "type": "nominal", "scale": {"domain": ["Frontier", "-1", "+1"], "range": ["#ff0000", "#ff0000", "#0000ff"]}, "legend": {"title": null, "orient": "bottom-right", "offset": -3, "encode": {"symbols": {"update": {"strokeWidth": {"signal": "datum.value === 'Frontier' ? 2 : 1"}}}, "labels": {"update": {"text": {"signal": "datum.label + '\u00a0\u00a0\u00a0\u00a0\u00a0\u00a0\u00a0\u00a0\u00a0\u00a0\u00a0'"}}}}}},
        "shape": {"field": "cls", "type": "nominal", "scale": {"domain": ["Frontier", "-1", "+1"], "range": ["M-3.55,0L3.55,0", "M-0.6,-0.6L0.6,0.6M-0.6,0.6L0.6,-0.6", "M-0.6,-0.6L0.6,0.6M-0.6,0.6L0.6,-0.6"]}, "legend": {"title": null, "orient": "bottom-right", "offset": -3, "encode": {"symbols": {"update": {"strokeWidth": {"signal": "datum.value === 'Frontier' ? 2 : 1"}}}, "labels": {"update": {"text": {"signal": "datum.label + '\u00a0\u00a0\u00a0\u00a0\u00a0\u00a0\u00a0\u00a0\u00a0\u00a0\u00a0'"}}}}}}
       }},
      {"data": {"name": "bm_fr"}, "mark": {"type": "line", "interpolate": "catmull-rom", "clip": true, "strokeWidth": 2},
       "encoding": {
        "x": {"field": "x", "type": "quantitative", "scale": {"domain": [0.24, 9.84], "nice": false, "zero": false}, "axis": null},
        "y": {"field": "y", "type": "quantitative", "scale": {"domain": [0.21, 8.6], "nice": false, "zero": false}, "axis": null},
        "order": {"field": "i", "type": "quantitative"},
        "detail": {"field": "seg", "type": "nominal"},
        "color": {"field": "cls", "type": "nominal", "scale": {"domain": ["Frontier", "-1", "+1"], "range": ["#ff0000", "#ff0000", "#0000ff"]}, "legend": {"title": null, "orient": "bottom-right", "offset": -3, "encode": {"symbols": {"update": {"strokeWidth": {"signal": "datum.value === 'Frontier' ? 2 : 1"}}}, "labels": {"update": {"text": {"signal": "datum.label + '\u00a0\u00a0\u00a0\u00a0\u00a0\u00a0\u00a0\u00a0\u00a0\u00a0\u00a0'"}}}}}}
       }}
     ]},
    {"width": 181, "height": 1, "data": {"values": []}, "mark": "point"},
    {"width": 405, "height": 316,
     "view": {"stroke": "#5a5a5a", "strokeWidth": 1},
     "title": {"text": "SVM+ model (correcting function)", "fontSize": 12, "fontWeight": "bold", "color": "#000000", "anchor": "middle", "dx": -64, "dy": 13, "offset": 14, "baseline": "alphabetic"},
     "resolve": {"axis": {"x": "independent", "y": "independent"}},
     "layer": [
      {"data": {"name": "br_pts"}, "mark": {"type": "point", "shape": "circle", "filled": false, "size": 170, "color": "#222222", "strokeWidth": 0.9},
       "encoding": {
        "x": {"field": "x", "type": "quantitative", "scale": {"domain": [0.24, 9.84], "nice": false, "zero": false}, "axis": {"values": [1, 2, 3, 4, 5, 6, 7, 8, 9], "format": "d", "tickSize": -4, "labelPadding": 10, "labelFontSize": 7, "title": "ML(t -\u00a0\u00a0\u00a0\u00a0\u00a0\u00a0\u00a0\u00a0τ): normalised data", "titleFontSize": 12, "titlePadding": 8, "titleX": 170}},
        "y": {"field": "y", "type": "quantitative", "scale": {"domain": [0.21, 8.6], "nice": false, "zero": false}, "axis": {"values": [1, 2, 3, 4, 5, 6, 7, 8], "format": "d", "tickSize": -4, "labelPadding": 11, "labelFontSize": 7, "title": "ML(t): normalised data", "titleFontSize": 12, "titlePadding": 13, "titleY": 198}}
       }},
      {"data": {"name": "br_pts"}, "mark": {"type": "point", "filled": false, "size": 100, "strokeWidth": 1},
       "encoding": {
        "x": {"field": "x", "type": "quantitative", "scale": {"domain": [0.24, 9.84], "nice": false, "zero": false}, "axis": {"orient": "top", "values": [1, 2, 3, 4, 5, 6, 7, 8, 9], "labels": false, "title": null, "tickSize": -4}},
        "y": {"field": "y", "type": "quantitative", "scale": {"domain": [0.21, 8.6], "nice": false, "zero": false}, "axis": {"orient": "right", "values": [1, 2, 3, 4, 5, 6, 7, 8], "labels": false, "title": null, "tickSize": -4}},
        "color": {"field": "cls", "type": "nominal", "scale": {"domain": ["Frontier", "-1", "+1"], "range": ["#ff0000", "#ff0000", "#0000ff"]}, "legend": {"title": null, "orient": "bottom-right", "offset": 0, "encode": {"symbols": {"update": {"strokeWidth": {"signal": "datum.value === 'Frontier' ? 2 : 1"}}}, "labels": {"update": {"text": {"signal": "datum.label + '\u00a0\u00a0\u00a0\u00a0\u00a0\u00a0\u00a0\u00a0\u00a0\u00a0\u00a0'"}}}}}},
        "shape": {"field": "cls", "type": "nominal", "scale": {"domain": ["Frontier", "-1", "+1"], "range": ["M-3.55,0L3.55,0", "M-0.6,-0.6L0.6,0.6M-0.6,0.6L0.6,-0.6", "M-0.6,-0.6L0.6,0.6M-0.6,0.6L0.6,-0.6"]}, "legend": {"title": null, "orient": "bottom-right", "offset": 0, "encode": {"symbols": {"update": {"strokeWidth": {"signal": "datum.value === 'Frontier' ? 2 : 1"}}}, "labels": {"update": {"text": {"signal": "datum.label + '\u00a0\u00a0\u00a0\u00a0\u00a0\u00a0\u00a0\u00a0\u00a0\u00a0\u00a0'"}}}}}}
       }},
      {"data": {"name": "br_fr"}, "mark": {"type": "line", "interpolate": "catmull-rom", "clip": true, "strokeWidth": 2},
       "encoding": {
        "x": {"field": "x", "type": "quantitative", "scale": {"domain": [0.24, 9.84], "nice": false, "zero": false}, "axis": null},
        "y": {"field": "y", "type": "quantitative", "scale": {"domain": [0.21, 8.6], "nice": false, "zero": false}, "axis": null},
        "order": {"field": "i", "type": "quantitative"},
        "detail": {"field": "seg", "type": "nominal"},
        "color": {"field": "cls", "type": "nominal", "scale": {"domain": ["Frontier", "-1", "+1"], "range": ["#ff0000", "#ff0000", "#0000ff"]}, "legend": {"title": null, "orient": "bottom-right", "offset": 0, "encode": {"symbols": {"update": {"strokeWidth": {"signal": "datum.value === 'Frontier' ? 2 : 1"}}}, "labels": {"update": {"text": {"signal": "datum.label + '\u00a0\u00a0\u00a0\u00a0\u00a0\u00a0\u00a0\u00a0\u00a0\u00a0\u00a0'"}}}}}}
       }}
     ]}
   ], "spacing": 0, "bounds": "flush", "resolve": {"scale": {"color": "independent", "shape": "independent"}}}
  ], "spacing": 0, "bounds": "flush", "resolve": {"scale": {"color": "independent", "shape": "independent"}}},
  {"vconcat": [
   {"width": 1, "height": 70, "data": {"values": []}, "mark": "point"},
   {"hconcat": [
    {"width": 117, "height": 1, "data": {"values": []}, "mark": "point"},
    {"width": 528, "height": 773, "data": {"values": []}, "mark": "point",
     "view": {"stroke": "#c00000", "strokeWidth": 5, "strokeDash": [1301, 528, 773, 0], "strokeCap": "square"},
     "title": {"text": "Last C-wall predictor", "fontSize": 42, "fontWeight": "bold", "color": "#c00000", "anchor": "middle", "dx": 36, "dy": 42, "offset": 3, "baseline": "alphabetic"}},
    {"width": 55, "height": 1, "data": {"values": []}, "mark": "point"},
    {"width": 529, "height": 773, "data": {"values": []}, "mark": "point",
     "view": {"stroke": "#c00000", "strokeWidth": 5, "strokeDash": [1302, 529, 773, 0], "strokeCap": "square"},
     "title": {"text": "First re-training", "fontSize": 42, "fontWeight": "bold", "color": "#c00000", "anchor": "middle", "dx": 32, "dy": 42, "offset": 3, "baseline": "alphabetic"}},
    {"width": 58, "height": 1, "data": {"values": []}, "mark": "point"},
    {"width": 489, "height": 773, "data": {"values": []}, "mark": "point",
     "view": {"stroke": "#c00000", "strokeWidth": 5, "strokeDash": [489, 1262, 773, 0], "strokeCap": "square"},
     "title": {"text": "Second re-training", "fontSize": 42, "fontWeight": "bold", "color": "#c00000", "anchor": "middle", "dx": 45, "dy": 42, "offset": 3, "baseline": "alphabetic"}}
   ], "spacing": 0, "bounds": "flush"}
  ], "spacing": 0, "bounds": "flush"},
  {"vconcat": [
   {"width": 1, "height": 465, "data": {"values": []}, "mark": "point"},
   {"hconcat": [
    {"width": 51, "height": 1, "data": {"values": []}, "mark": "point"},
    {"width": 1726, "height": 0.01, "data": {"values": []}, "mark": "point",
     "view": {"stroke": "#c00000", "strokeWidth": 5, "strokeDash": [22, 13]}}
   ], "spacing": 0, "bounds": "flush"}
  ], "spacing": 0, "bounds": "flush"},
  {"hconcat": [
   {"width": 103, "height": 1, "data": {"values": []}, "mark": "point"},
   {"vconcat": [
    {"width": 1, "height": 80, "data": {"values": []}, "mark": "point"},
    {"width": 1, "height": 300, "data": {"values": []}, "mark": "point",
     "title": {"text": "Decision space", "orient": "left", "anchor": "middle", "fontSize": 42, "fontWeight": "bold", "color": "#c00000", "offset": 0, "dy": 40, "baseline": "alphabetic"}},
    {"width": 1, "height": 90, "data": {"values": []}, "mark": "point"},
    {"width": 1, "height": 300, "data": {"values": []}, "mark": "point",
     "title": {"text": "Correction space", "orient": "left", "anchor": "middle", "fontSize": 42, "fontWeight": "bold", "color": "#c00000", "offset": 0, "dy": 40, "baseline": "alphabetic"}}
   ], "spacing": 0, "bounds": "flush"}
  ], "spacing": 0, "bounds": "flush"}
 ]
}
